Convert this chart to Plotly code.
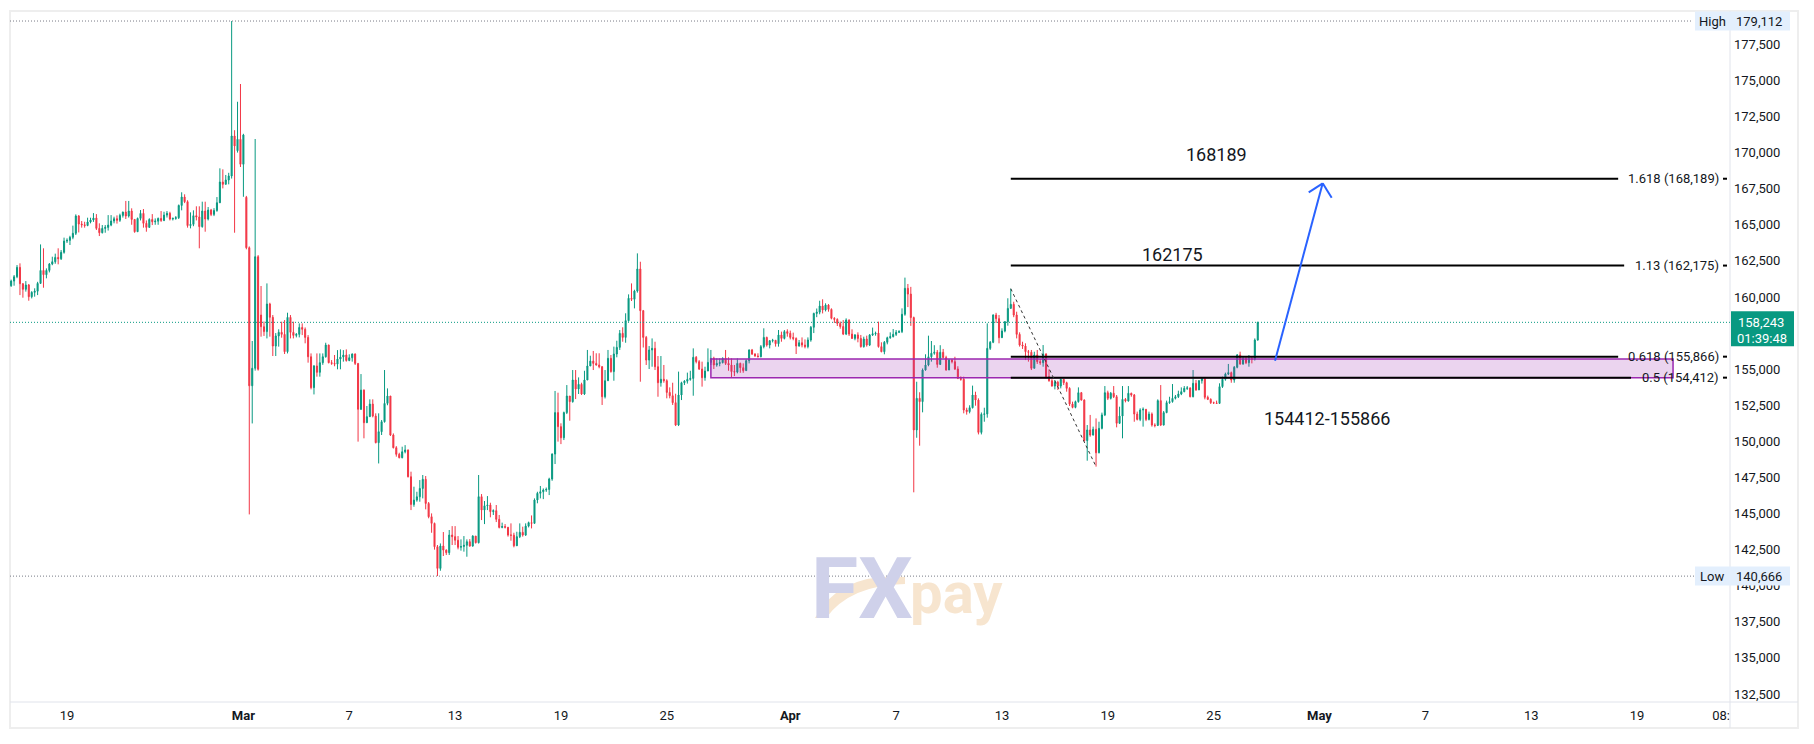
import pandas as pd
import plotly.graph_objects as go

# ---------------- data (prices in thousands) ----------------
START = "2025-02-15 20:00"
FREQ = "4h"

CLOSE_K = [
    161.10, 161.40, 162.05, 160.92, 160.53, 160.83, 160.02, 160.32, 160.40, 160.94,
    161.84, 161.54, 161.84, 162.28, 162.44, 162.74, 162.65, 163.09, 163.87, 163.92,
    164.13, 164.41, 165.61, 165.05, 165.00, 164.95, 165.19, 165.33, 165.47, 164.75,
    164.45, 164.75, 164.82, 164.98, 165.26, 165.42, 165.31, 165.65, 165.88, 165.61,
    165.95, 165.37, 164.52, 165.44, 165.79, 165.10, 164.82, 165.37, 165.21, 165.25,
    165.44, 165.30, 165.67, 165.79, 165.40, 165.44, 165.49, 166.34, 166.92, 166.60,
    164.94, 165.03, 165.63, 165.54, 164.87, 165.95, 165.40, 166.02, 165.72, 165.99,
    166.53, 167.96, 167.80, 168.10, 168.38, 171.15, 170.46, 170.92, 169.19, 171.22,
    163.41, 153.85, 155.06, 162.79, 154.99, 157.94, 157.60, 159.51, 158.59, 156.60,
    157.30, 157.55, 157.41, 156.21, 158.59, 157.55, 157.34, 157.41, 157.89, 157.76,
    157.20, 155.86, 153.72, 155.22, 154.78, 155.45, 155.86, 156.67, 155.45, 155.40,
    155.35, 155.70, 155.84, 155.98, 155.60, 155.79, 156.05, 155.40, 152.22, 153.55,
    151.29, 151.71, 152.58, 151.75, 149.91, 150.67, 151.36, 152.63, 153.14, 150.44,
    149.56, 149.10, 148.87, 149.28, 149.40, 147.55, 145.63, 145.93, 146.16, 146.74,
    147.37, 145.70, 144.78, 144.32, 142.70, 141.20, 142.75, 142.47, 142.29, 143.51,
    143.40, 143.15, 142.66, 142.72, 142.80, 143.05, 142.75, 143.44, 142.98, 146.17,
    145.24, 145.54, 145.59, 145.13, 145.20, 144.60, 144.04, 144.10, 144.05, 143.51,
    143.50, 142.77, 143.40, 143.70, 143.51, 144.13, 144.37, 144.32, 145.94, 146.40,
    146.51, 146.63, 146.67, 147.39, 149.12, 151.99, 151.02, 150.25, 151.99, 153.14,
    152.75, 154.25, 153.63, 153.95, 153.28, 154.25, 155.22, 155.56, 155.40, 155.29,
    155.17, 153.09, 154.20, 155.75, 154.83, 156.05, 156.51, 157.48, 157.20, 158.36,
    159.91, 159.84, 160.41, 161.94, 159.05, 157.20, 155.63, 156.33, 156.44, 155.17,
    154.06, 154.30, 154.20, 153.39, 153.16, 152.68, 151.13, 153.21, 154.06, 154.17,
    154.29, 154.36, 155.82, 155.52, 155.01, 154.41, 154.87, 155.47, 155.75, 155.29,
    155.40, 155.45, 155.75, 155.40, 155.29, 154.83, 154.80, 155.40, 155.10, 154.90,
    155.59, 156.33, 156.05, 155.91, 155.86, 156.56, 157.20, 156.67, 156.97, 157.00,
    156.76, 157.37, 157.13, 157.60, 157.48, 157.20, 157.13, 156.60, 156.83, 156.67,
    156.56, 157.02, 157.90, 158.86, 158.95, 159.37, 159.10, 159.44, 159.14, 158.52,
    158.45, 158.17, 157.95, 157.43, 158.40, 157.43, 157.13, 157.37, 157.13, 156.56,
    157.09, 156.67, 157.37, 157.45, 157.50, 156.56, 156.21, 156.86, 157.18, 157.25,
    157.41, 157.55, 157.60, 158.80, 160.60, 160.20, 158.57, 150.79, 152.98, 152.75,
    154.94, 155.29, 155.86, 156.10, 156.17, 155.33, 156.17, 155.80, 154.94, 155.63,
    155.52, 155.01, 154.36, 154.30, 152.17, 152.06, 152.33, 153.21, 152.86, 150.62,
    151.87, 151.90, 156.44, 156.86, 158.75, 158.50, 157.18, 157.64, 158.29, 159.21,
    159.49, 158.75, 157.41, 156.67, 156.60, 156.21, 156.17, 155.06, 155.98, 155.52,
    155.45, 156.05, 154.48, 154.20, 153.83, 154.10, 153.83, 154.30, 154.06, 153.67,
    152.59, 152.35, 152.75, 153.37, 152.86, 150.05, 150.79, 150.44, 150.83, 149.21,
    150.90, 151.83, 153.37, 152.98, 153.33, 153.09, 151.25, 151.75, 152.91, 152.80,
    153.33, 153.21, 151.89, 151.52, 152.17, 152.22, 151.52, 151.89, 151.13, 151.10,
    152.82, 151.13, 151.99, 152.68, 152.75, 152.98, 153.09, 153.28, 153.44, 153.67,
    153.70, 153.09, 154.02, 153.56, 154.20, 154.36, 153.05, 152.91, 152.68, 152.66,
    152.63, 153.79, 154.30, 154.66, 154.76, 154.25, 155.13, 155.98, 155.36, 155.75,
    155.45, 155.75, 155.68, 157.02, 158.24,
]

HIGH_K = [
    161.20, 161.52, 162.21, 162.33, 160.95, 161.10, 160.90, 160.40, 160.60, 161.05,
    163.64, 163.37, 161.98, 162.35, 162.79, 163.00, 163.37, 163.25, 164.11, 164.06,
    164.24, 164.94, 165.72, 165.67, 165.26, 165.21, 165.49, 165.49, 165.81, 165.74,
    165.10, 164.98, 164.98, 165.67, 165.67, 165.56, 165.65, 165.77, 165.91, 166.65,
    166.65, 166.14, 165.40, 165.50, 166.02, 166.09, 165.30, 165.45, 165.74, 165.44,
    165.50, 165.95, 165.90, 165.95, 165.90, 165.50, 165.60, 166.40, 167.25, 167.11,
    166.70, 165.86, 166.00, 166.28, 166.28, 166.60, 166.60, 166.23, 166.10, 166.15,
    166.92, 168.91, 168.84, 168.45, 168.60, 179.11, 171.55, 173.52, 174.75, 171.30,
    167.00, 163.50, 156.95, 170.94, 162.90, 160.76, 158.30, 160.94, 159.60, 158.75,
    157.50, 157.76, 158.29, 158.40, 158.91, 158.75, 158.29, 157.50, 158.17, 158.17,
    157.89, 157.36, 156.09, 155.29, 156.09, 156.09, 156.09, 156.83, 156.70, 155.63,
    155.98, 156.32, 156.37, 156.32, 156.37, 156.03, 156.09, 156.09, 155.40, 154.66,
    153.60, 152.45, 152.91, 152.91, 151.94, 151.94, 151.48, 154.94, 153.67, 153.14,
    150.55, 149.67, 149.21, 149.63, 149.74, 149.44, 147.90, 146.86, 146.51, 147.32,
    147.67, 147.60, 145.80, 145.01, 144.37, 142.82, 142.93, 143.72, 142.52, 143.86,
    144.13, 144.13, 143.44, 143.21, 143.44, 143.21, 143.23, 143.50, 143.44, 147.67,
    146.35, 145.87, 146.21, 145.75, 145.29, 145.59, 144.90, 144.37, 144.27, 143.97,
    144.32, 143.67, 143.74, 144.32, 144.09, 144.32, 144.44, 144.87, 146.05, 146.51,
    146.91, 146.74, 146.80, 147.48, 149.17, 153.49, 153.37, 151.25, 152.06, 153.90,
    153.09, 154.94, 154.94, 154.43, 154.06, 154.89, 156.33, 155.93, 156.26, 156.10,
    156.10, 155.22, 154.94, 156.33, 155.98, 156.56, 156.97, 157.71, 157.90, 158.87,
    160.18, 160.94, 160.50, 163.02, 162.44, 159.10, 157.30, 156.60, 157.13, 156.90,
    155.91, 155.91, 155.29, 154.30, 153.74, 154.06, 153.30, 154.83, 154.13, 154.24,
    154.76, 154.89, 156.44, 155.91, 155.63, 155.52, 155.17, 156.44, 156.33, 155.86,
    155.75, 155.75, 155.82, 156.33, 155.82, 155.75, 155.29, 155.75, 155.45, 155.40,
    155.68, 156.37, 156.40, 156.10, 156.10, 156.67, 157.83, 157.25, 157.02, 157.10,
    157.02, 157.71, 157.60, 157.71, 157.76, 157.67, 157.53, 157.20, 157.02, 157.20,
    157.06, 157.20, 157.99, 158.91, 159.20, 159.74, 159.84, 159.56, 159.51, 159.21,
    158.60, 158.52, 158.30, 158.40, 158.52, 158.45, 157.76, 157.43, 157.55, 157.37,
    157.25, 157.32, 157.43, 157.88, 157.60, 158.29, 156.86, 156.95, 157.25, 157.55,
    157.78, 157.71, 157.70, 159.21, 161.34, 160.90, 160.70, 158.64, 154.13, 153.40,
    155.05, 156.03, 157.32, 156.95, 156.66, 156.33, 156.66, 156.40, 155.93, 155.70,
    155.70, 155.86, 155.20, 154.50, 154.48, 152.33, 152.50, 153.86, 153.44, 152.98,
    152.00, 152.33, 158.17, 156.95, 158.80, 158.90, 158.75, 157.83, 158.33, 159.91,
    160.57, 159.67, 158.98, 157.55, 156.90, 156.79, 156.33, 156.33, 156.21, 156.33,
    155.70, 156.67, 156.10, 154.99, 154.30, 154.25, 154.20, 154.36, 154.30, 154.13,
    153.75, 152.75, 152.82, 153.74, 153.42, 152.91, 151.13, 151.83, 151.02, 151.59,
    151.36, 151.99, 153.83, 153.51, 153.42, 153.83, 153.21, 152.40, 153.83, 153.00,
    153.83, 153.37, 153.28, 152.06, 152.29, 152.35, 152.22, 152.06, 152.00, 151.25,
    152.91, 153.90, 152.10, 152.82, 153.09, 153.97, 153.21, 153.51, 153.74, 153.83,
    153.83, 153.74, 154.94, 154.25, 154.25, 154.40, 154.40, 153.17, 152.98, 152.75,
    152.82, 154.02, 154.48, 154.76, 155.36, 154.83, 155.22, 156.05, 156.21, 155.82,
    155.82, 155.98, 155.82, 157.13, 158.29,
]

LOW_K = [
    160.70, 160.78, 161.30, 160.13, 159.95, 160.37, 159.74, 159.90, 160.02, 160.13,
    160.90, 160.64, 161.29, 161.70, 162.20, 162.30, 162.26, 162.56, 163.00, 163.74,
    163.60, 164.00, 164.29, 164.47, 164.80, 164.80, 164.90, 165.10, 165.20, 164.64,
    164.22, 164.40, 164.45, 164.60, 164.90, 165.10, 165.08, 165.20, 165.50, 165.40,
    165.50, 165.00, 164.45, 164.50, 165.30, 164.80, 164.52, 164.80, 164.98, 165.00,
    165.00, 165.20, 165.25, 165.50, 165.30, 165.30, 165.35, 165.40, 166.00, 166.50,
    164.80, 164.75, 164.90, 165.30, 163.37, 164.80, 164.52, 165.30, 165.60, 165.60,
    165.90, 166.50, 167.52, 167.80, 167.80, 168.20, 164.45, 170.00, 169.00, 166.94,
    163.30, 144.94, 151.24, 154.90, 154.90, 157.25, 157.30, 157.13, 157.25, 155.91,
    155.91, 156.56, 157.18, 156.05, 156.09, 157.13, 157.13, 157.20, 157.20, 157.36,
    156.79, 155.45, 153.60, 153.25, 154.48, 154.48, 155.30, 155.80, 155.40, 155.30,
    155.20, 154.99, 154.99, 155.52, 155.52, 155.55, 155.52, 155.29, 149.98, 152.17,
    150.21, 151.30, 151.70, 151.66, 149.86, 148.47, 150.44, 151.30, 152.50, 150.37,
    149.51, 148.94, 148.82, 148.82, 149.17, 147.50, 145.24, 145.47, 145.82, 145.82,
    146.05, 145.29, 144.67, 143.67, 142.50, 140.67, 141.04, 142.06, 142.13, 142.13,
    142.82, 142.82, 142.52, 142.43, 142.36, 142.01, 142.70, 142.70, 142.93, 142.93,
    144.55, 144.27, 145.24, 144.74, 144.90, 144.41, 143.97, 143.98, 143.97, 143.40,
    143.12, 142.66, 142.75, 143.30, 143.40, 143.45, 144.04, 143.97, 144.32, 145.71,
    146.05, 146.00, 146.50, 146.28, 147.27, 148.43, 149.98, 149.81, 150.09, 151.89,
    151.43, 152.68, 152.93, 153.28, 153.21, 153.21, 154.30, 155.22, 154.94, 155.24,
    155.06, 152.52, 152.97, 154.20, 154.76, 154.20, 155.82, 156.33, 156.90, 156.83,
    158.29, 159.72, 159.21, 160.30, 154.13, 156.50, 155.29, 155.01, 155.17, 154.94,
    153.09, 153.79, 154.06, 152.98, 152.98, 152.52, 151.06, 151.06, 152.86, 153.90,
    154.00, 154.20, 153.16, 155.40, 154.94, 153.79, 154.20, 154.87, 155.29, 155.01,
    155.17, 155.20, 155.40, 155.29, 154.89, 154.43, 154.52, 154.71, 154.75, 154.75,
    154.90, 155.40, 155.98, 155.86, 155.82, 155.82, 156.44, 156.56, 156.44, 156.85,
    156.56, 156.56, 156.90, 157.06, 157.25, 157.06, 157.00, 156.05, 156.56, 156.51,
    156.44, 156.44, 156.90, 157.50, 158.60, 158.80, 158.86, 159.00, 158.98, 158.45,
    158.20, 157.99, 157.80, 157.36, 157.36, 157.30, 157.09, 157.00, 156.86, 156.49,
    156.49, 156.56, 156.60, 157.30, 157.32, 156.49, 156.17, 156.03, 156.72, 157.10,
    157.20, 157.30, 157.50, 157.50, 158.70, 159.30, 158.00, 146.47, 150.25, 149.70,
    152.01, 154.90, 155.20, 155.52, 156.00, 155.10, 155.29, 155.75, 154.90, 154.94,
    155.40, 154.94, 154.31, 154.20, 151.94, 151.85, 151.94, 152.28, 152.47, 150.48,
    150.48, 151.36, 151.64, 156.33, 156.80, 158.20, 156.79, 157.18, 157.55, 158.01,
    159.20, 158.60, 157.13, 156.56, 156.40, 155.63, 155.52, 154.94, 155.06, 155.36,
    155.30, 155.17, 154.36, 154.13, 153.79, 153.60, 153.56, 153.67, 153.90, 153.44,
    152.45, 152.29, 152.29, 152.68, 152.82, 150.00, 148.66, 150.32, 150.40, 148.25,
    149.17, 150.83, 151.75, 152.86, 152.90, 153.00, 150.97, 151.20, 150.21, 152.70,
    152.75, 153.09, 151.36, 151.45, 151.40, 151.02, 151.40, 151.45, 151.02, 150.97,
    151.06, 151.06, 151.10, 151.95, 152.60, 152.68, 152.90, 153.00, 153.20, 153.40,
    153.56, 153.05, 153.05, 153.50, 153.56, 154.00, 152.91, 152.86, 152.59, 152.59,
    152.59, 152.59, 153.70, 154.20, 154.59, 154.06, 154.06, 155.06, 155.30, 155.30,
    155.35, 155.17, 155.40, 155.60, 156.97,
]

# opens equal previous close except where the chart shows a gap
OPEN_GAPS_K = {0: 160.78, 77: 170.13, 80: 166.90, 85: 158.75}

X_TICK_DATES = ["2025-02-19", "2025-03-01", "2025-03-07", "2025-03-13", "2025-03-19",
                "2025-03-25", "2025-04-01", "2025-04-07", "2025-04-13", "2025-04-19",
                "2025-04-25", "2025-05-01", "2025-05-07", "2025-05-13", "2025-05-19",
                "2025-05-23 18:14"]
X_TICK_TEXT = ["19", "<b>Mar</b>", "7", "13", "19", "25", "<b>Apr</b>", "7", "13", "19",
               "25", "<b>May</b>", "7", "13", "19", "08:"]

# price-scale labels that are visible (157,500 sits under the last-price tag)
Y_TICKS = [132500, 135000, 137500, 140000, 142500, 145000, 147500, 150000, 152500,
           155000, 160000, 162500, 165000, 167500, 170000, 172500, 175000, 177500]

HIGH_PRICE = 179112
LOW_PRICE = 140666
LAST_PRICE = 158243
COUNTDOWN = "01:39:48"

SWING_HIGH = 160573
SWING_LOW = 148250
SWING_HIGH_TIME = "2025-04-13 12:00"
SWING_LOW_TIME = "2025-04-18 08:00"

FIB_RATIO_TEXT = ["0.5", "0.618", "1.13", "1.618"]
FIB_PRICE = [154412, 155866, 162175, 168189]
FIB_END = ["2025-05-18 15:50", "2025-05-17 22:20", "2025-05-18 06:30", "2025-05-17 22:20"]

ZONE_LOW, ZONE_HIGH = 154412, 155700
ZONE_START, ZONE_END = "2025-03-27 12:00", "2025-05-21 01:00"
ZONE_TEXT = "154412-155866"

ARROW_START = ("2025-04-28 11:30", 155586)
ARROW_TIP = ("2025-05-01 04:20", 167873)
ARROW_WING_A = ("2025-04-30 09:20", 167250)
ARROW_WING_B = ("2025-05-01 16:35", 166876)

TARGET_TEXT = ["162175", "168189"]
TARGET_POS = [("2025-04-22 15:25", 162976), ("2025-04-25 03:20", 169902)]
ZONE_TEXT_POS = ("2025-05-01 10:20", 151617)

# ---------------- build candles ----------------
times = pd.date_range(START, periods=len(CLOSE_K), freq=FREQ)
close = [c * 1000 for c in CLOSE_K]
opn = []
for i in range(len(close)):
    if i in OPEN_GAPS_K:
        opn.append(OPEN_GAPS_K[i] * 1000)
    else:
        opn.append(close[i - 1])
high = [max(h * 1000, o, c) for h, o, c in zip(HIGH_K, opn, close)]
low = [min(l * 1000, o, c) for l, o, c in zip(LOW_K, opn, close)]

GREEN = "#089981"
RED = "#F23645"
TXT = "#131722"
FONT = "Roboto"

# page has an 8px body margin: figure is 8px smaller, screen coords below are page pixels
BODY = 8
W, H = 1814 - BODY, 744 - BODY
PL, PR, PT, PB = 10, 1730, 11, 702          # plot area in page pixels
ML, MT = PL - BODY, PT - BODY
MR, MB = W - (PR - BODY), H - (PB - BODY)


def pxx(x):
    return (x - PL) / (PR - PL)


def pxy(y):
    return (PB - y) / (PB - PT)


fig = go.Figure()
fig.add_trace(go.Candlestick(
    x=times, open=opn, high=high, low=low, close=close,
    increasing=dict(line=dict(color=GREEN, width=1), fillcolor=GREEN),
    decreasing=dict(line=dict(color=RED, width=1), fillcolor=RED),
    whiskerwidth=0, hoverinfo="skip", showlegend=False,
))

shapes = []
ann = []

# frame + separators
shapes.append(dict(type="rect", xref="paper", yref="paper", x0=pxx(10), x1=pxx(1798),
                   y0=pxy(11), y1=pxy(728), line=dict(color="#eeeeee", width=2), layer="below"))
shapes.append(dict(type="line", xref="paper", yref="paper", x0=pxx(10), x1=pxx(1798),
                   y0=pxy(702), y1=pxy(702), line=dict(color="#e0e3eb", width=1)))
shapes.append(dict(type="line", xref="paper", yref="paper", x0=pxx(1730), x1=pxx(1730),
                   y0=pxy(11), y1=pxy(728), line=dict(color="#e0e3eb", width=1)))

# high / low / last price lines
shapes.append(dict(type="line", xref="paper", yref="y", x0=0, x1=pxx(1693), y0=HIGH_PRICE,
                   y1=HIGH_PRICE, line=dict(color="#787b86", width=1, dash="1px,2px")))
shapes.append(dict(type="line", xref="paper", yref="y", x0=0, x1=pxx(1695), y0=LOW_PRICE,
                   y1=LOW_PRICE, line=dict(color="#787b86", width=1, dash="1px,2px")))
shapes.append(dict(type="line", xref="paper", yref="y", x0=0, x1=1, y0=LAST_PRICE,
                   y1=LAST_PRICE, line=dict(color=GREEN, width=1, dash="1px,2px")))

# zone rectangle
shapes.append(dict(type="rect", xref="x", yref="y", x0=ZONE_START, x1=ZONE_END,
                   y0=ZONE_LOW, y1=ZONE_HIGH, fillcolor="rgba(156,39,176,0.2)",
                   line=dict(color="#9c27b0", width=1.5), layer="above"))

# fib levels
for rt, pr, end in zip(FIB_RATIO_TEXT, FIB_PRICE, FIB_END):
    shapes.append(dict(type="line", xref="x", yref="y", x0=SWING_HIGH_TIME, x1=end,
                       y0=pr, y1=pr, line=dict(color="#000000", width=2)))
    shapes.append(dict(type="line", xref="paper", yref="y", x0=pxx(1723), x1=pxx(1727),
                       y0=pr, y1=pr, line=dict(color="#000000", width=2)))
    ann.append(dict(xref="paper", yref="y", x=pxx(1721), y=pr, xanchor="right",
                    yanchor="middle", showarrow=False,
                    text=f"{rt} ({pr:,})", font=dict(family=FONT, size=13, color=TXT)))

# dashed swing line
shapes.append(dict(type="line", xref="x", yref="y", x0=SWING_HIGH_TIME, x1=SWING_LOW_TIME,
                   y0=SWING_HIGH, y1=SWING_LOW,
                   line=dict(color="#333333", width=1, dash="3px,3px")))

# blue arrow
BLUE = "#2962ff"
for a, b in [(ARROW_START, ARROW_TIP), (ARROW_WING_A, ARROW_TIP), (ARROW_WING_B, ARROW_TIP)]:
    shapes.append(dict(type="line", xref="x", yref="y", x0=a[0], y0=a[1], x1=b[0], y1=b[1],
                       line=dict(color=BLUE, width=2)))

# price-axis labels: High / Low / Last
LBL_BG = "#e3effd"
for name, pr in [("High", HIGH_PRICE), ("Low", LOW_PRICE)]:
    shapes.append(dict(type="rect", xref="paper", yref="y", x0=pxx(1695), x1=pxx(1790),
                       ysizemode="pixel", yanchor=pr, y0=-9.5, y1=9.5,
                       fillcolor=LBL_BG, line=dict(width=0), layer="above"))
    ann.append(dict(xref="paper", yref="y", x=pxx(1712), y=pr, xanchor="center",
                    yanchor="middle", showarrow=False, text=name,
                    font=dict(family=FONT, size=13, color=TXT)))
    ann.append(dict(xref="paper", yref="y", x=pxx(1759), y=pr, xanchor="center",
                    yanchor="middle", showarrow=False, text=f"{pr:,}",
                    font=dict(family=FONT, size=13, color=TXT)))

shapes.append(dict(type="rect", xref="paper", yref="y", x0=pxx(1731), x1=pxx(1794),
                   ysizemode="pixel", yanchor=LAST_PRICE, y0=-24, y1=11,
                   fillcolor=GREEN, line=dict(width=0), layer="above"))
ann.append(dict(xref="paper", yref="y", x=pxx(1761), y=LAST_PRICE, xanchor="center",
                yanchor="middle", showarrow=False, text=f"{LAST_PRICE:,}",
                font=dict(family=FONT, size=13, color="white")))
ann.append(dict(xref="paper", yref="y", x=pxx(1762), y=LAST_PRICE, yshift=-16,
                xanchor="center", yanchor="middle", showarrow=False, text=COUNTDOWN,
                font=dict(family=FONT, size=13, color="white")))

# target texts
for t, (xt, yt) in zip(TARGET_TEXT, TARGET_POS):
    ann.append(dict(xref="x", yref="y", x=xt, y=yt, showarrow=False, text=t,
                    font=dict(family=FONT, size=18, color=TXT)))
ann.append(dict(xref="x", yref="y", x=ZONE_TEXT_POS[0], y=ZONE_TEXT_POS[1], showarrow=False,
                text=ZONE_TEXT, font=dict(family=FONT, size=18, color=TXT)))

# watermark
ann.append(dict(xref="paper", yref="paper", x=pxx(862), y=pxy(641), showarrow=False,
                text="<b>FX</b>", font=dict(family="Roboto", size=86, color="#cfd1ea")))
ann.append(dict(xref="paper", yref="paper", x=pxx(956), y=pxy(629), showarrow=False,
                text="<b>pay</b>", font=dict(family="Roboto", size=58, color="#f7e5cf")))
sw = "M {} {} Q {} {} {} {} L {} {} Q {} {} {} {} Z".format(
    pxx(815), pxy(618), pxx(840), pxy(572), pxx(905), pxy(577),
    pxx(905), pxy(584), pxx(850), pxy(585), pxx(826), pxy(618))
shapes.append(dict(type="path", xref="paper", yref="paper", path=sw,
                   fillcolor="#f7e5cf", line=dict(width=0), layer="above"))

fig.update_layout(
    width=W, height=H,
    margin=dict(l=ML, r=MR, t=MT, b=MB, pad=0),
    paper_bgcolor="white", plot_bgcolor="white",
    showlegend=False, hovermode=False, dragmode=False,
    boxgap=0.5,
    shapes=shapes, annotations=ann,
    font=dict(family=FONT, size=13, color=TXT),
    xaxis=dict(type="date", range=["2025-02-15 18:27", "2025-05-24 06:29"],
               tickmode="array", tickvals=X_TICK_DATES, ticktext=X_TICK_TEXT,
               showgrid=False, zeroline=False, showline=False, ticks="",
               ticklabelstandoff=4, tickfont=dict(family=FONT, size=13, color=TXT),
               rangeslider=dict(visible=False), fixedrange=True),
    yaxis=dict(side="right", range=[131948, 179806], tickmode="array",
               tickvals=Y_TICKS, tickformat=",d", showgrid=False, zeroline=False,
               showline=False, ticks="", ticklabelstandoff=3,
               tickfont=dict(family=FONT, size=13, color=TXT), fixedrange=True),
)

fig.write_html("out.html")
